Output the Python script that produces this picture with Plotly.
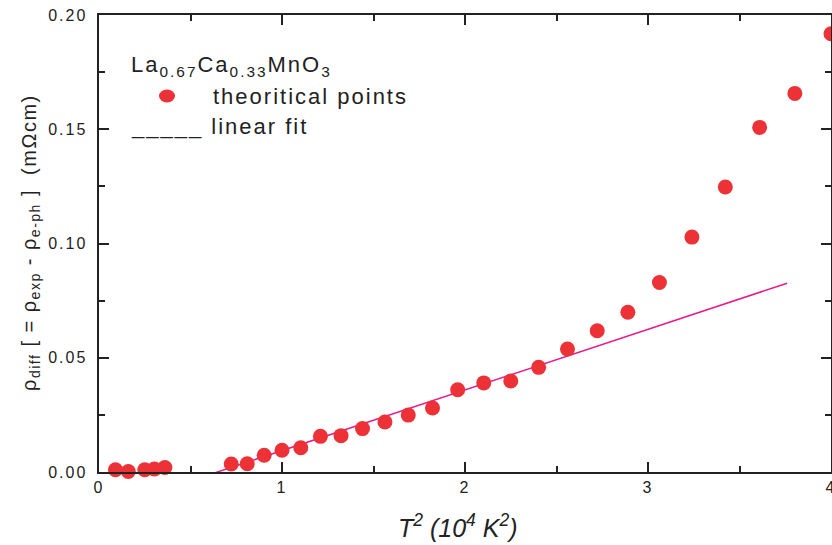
import plotly.graph_objects as go

# T^2 values (10^4 K^2) and rho_diff values (mOhm cm)
t2 = [0.09, 0.16, 0.25, 0.3025, 0.36, 0.7225, 0.81, 0.9025, 1.0, 1.1025,
      1.21, 1.3225, 1.44, 1.5625, 1.69, 1.8225, 1.96, 2.1025, 2.25, 2.4025,
      2.56, 2.7225, 2.89, 3.0625, 3.24, 3.4225, 3.61, 3.8025, 4.0]
rho_diff = [0.0010, 0.0002, 0.0010, 0.0013, 0.0020, 0.0035, 0.0036, 0.0073,
            0.0095, 0.0106, 0.0156, 0.0159, 0.0190, 0.0219, 0.0249, 0.0280,
            0.0360, 0.0390, 0.0398, 0.0458, 0.0538, 0.0618, 0.0699, 0.0829,
            0.1028, 0.1247, 0.1508, 0.1657, 0.1918]

# linear fit end points
fit_x = [0.617, 3.76]
fit_y = [-0.0008, 0.0826]

x_ticks = [0, 1, 2, 3, 4]
x_tick_labels = ["0", "1", "2", "3", "4"]
y_ticks = [0.00, 0.05, 0.10, 0.15, 0.20]
y_tick_labels = ["0.00", "0.05", "0.10", "0.15", "0.20"]

W, H = 832, 545
L, R, T, B = 99, 1, 15, 73
PW, PH = W - L - R, H - T - B


def px(x):
    return (x - L) / PW


def py(y):
    return (H - B - y) / PH


fig = go.Figure()
fig.add_trace(go.Scatter(x=fit_x, y=fit_y, mode="lines",
                         line=dict(color="#e8198b", width=1.5),
                         showlegend=False, hoverinfo="skip"))
fig.add_trace(go.Scatter(x=t2, y=rho_diff, mode="markers",
                         marker=dict(color="#ec3237", size=15, line=dict(width=0)),
                         cliponaxis=False, showlegend=False))

axis_common = dict(
    showline=True, linecolor="#222", linewidth=2, mirror="ticks",
    ticks="inside", ticklen=10, tickwidth=2, tickcolor="#222",
    showgrid=False, zeroline=False, automargin=False,
    ticklabeloverflow="allow",
    tickfont=dict(family="Liberation Sans, Arial", size=16, color="#222"),
)

fig.update_xaxes(range=[0, 4], tickvals=x_ticks, ticktext=x_tick_labels,
                 minor=dict(ticks="inside", ticklen=6, tickwidth=2, tickcolor="#222",
                            tickvals=[0.5, 1.5, 2.5, 3.5], showgrid=False),
                 **axis_common)
fig.update_yaxes(range=[0, 0.2], tickvals=y_ticks,
                 ticktext=[t + "\u00a0" for t in y_tick_labels],
                 minor=dict(ticks="inside", ticklen=6, tickwidth=2, tickcolor="#222",
                            tickvals=[0.025, 0.075, 0.125, 0.175], showgrid=False),
                 **axis_common)

font_txt = dict(family="Liberation Sans, Arial", size=22, color="#222")
annotations = [
    dict(x=px(129), y=py(66), xref="paper", yref="paper", xanchor="left", yanchor="middle",
         align="left",
         text="La<sub>0.67</sub>Ca<sub>0.33</sub>MnO<sub>3</sub>", showarrow=False, font=font_txt),
    dict(x=px(211), y=py(96), xref="paper", yref="paper", xanchor="left", yanchor="middle",
         align="left",
         text="theoritical points", showarrow=False, font=font_txt),
    dict(x=px(129), y=py(127), xref="paper", yref="paper", xanchor="left", yanchor="middle",
         align="left",
         text="_____ linear fit", showarrow=False, font=font_txt),
    dict(x=px(458), y=py(526), xref="paper", yref="paper", xanchor="center", yanchor="middle",
         text="<i>T<sup>2</sup> (10<sup>4</sup> K<sup>2</sup>)</i>", showarrow=False,
         font=dict(family="Liberation Sans, Arial", size=25, color="#222")),
    dict(x=px(30), y=py(243), xref="paper", yref="paper", xanchor="center", yanchor="middle",
         textangle=-90,
         text="ρ<sub>diff</sub> [ = ρ<sub>exp</sub> - ρ<sub>e-ph</sub> ]  (mΩcm)",
         showarrow=False, font=dict(family="Liberation Sans, Arial", size=20, color="#222")),
]

shapes = [
    dict(type="circle", xref="paper", yref="paper",
         x0=px(159), x1=px(175), y0=py(102.5), y1=py(89.5),
         fillcolor="#ec3237", line=dict(width=0)),
]

fig.update_layout(width=W, height=H, margin=dict(l=L, r=R, t=T, b=B, autoexpand=False),
                  plot_bgcolor="white", paper_bgcolor="white",
                  annotations=annotations, shapes=shapes, showlegend=False)

post = """
document.body.style.margin = '0';
document.body.style.padding = '0';
function applySpacing() {
  var gd = document.getElementById('{plot_id}');
  if (!gd) return;
  var ann = gd.querySelectorAll('g.annotation text');
  for (var i = 0; i < ann.length; i++) {
    var t = ann[i].textContent || '';
    var sp = '2px';
    if (t.indexOf('diff') >= 0) sp = '1.5px';
    if (t.indexOf('10') >= 0 && t.indexOf('T') >= 0) sp = '0px';
    ann[i].setAttribute('letter-spacing', sp);
  }
  var ticks = gd.querySelectorAll('g.xtick text, g.ytick text');
  for (var j = 0; j < ticks.length; j++) ticks[j].setAttribute('letter-spacing', '2px');
}
applySpacing();
setTimeout(applySpacing, 0);
setTimeout(applySpacing, 200);
"""

fig.write_html("out.html", post_script=post, config={"displayModeBar": False})
